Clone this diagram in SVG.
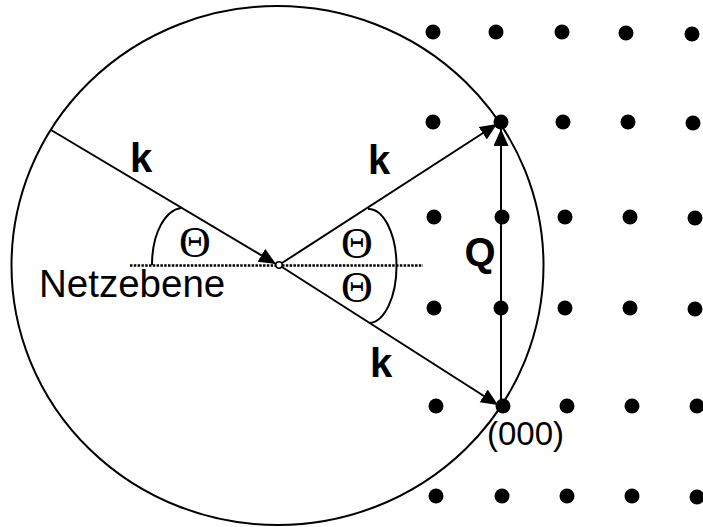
<svg xmlns="http://www.w3.org/2000/svg" width="703" height="527" viewBox="0 0 703 527">
<style>
.ln{stroke:#000;stroke-width:2;fill:none}
.dot{fill:#000}
.sans{font-family:"Liberation Sans",Arial,sans-serif;fill:#000}
.bold{font-family:"Liberation Sans",Arial,sans-serif;font-weight:bold;fill:#000}
.th{font-family:"Liberation Serif","Times New Roman",serif;fill:#000}
</style>
<defs>
<marker id="ah" markerUnits="userSpaceOnUse" markerWidth="18" markerHeight="16" refX="17" refY="7.5" orient="auto" viewBox="0 0 18 16">
<path d="M0,0 L17,7.5 L0,15 z" fill="#000"/>
</marker>
</defs>
<rect width="703" height="527" fill="#fff"/>
<g id="ewald-sphere">
<ellipse class="ln" cx="277.5" cy="265.5" rx="266" ry="259.5"/>
</g>
<g id="lattice">
<circle class="dot" cx="433" cy="32" r="7.5"/>
<circle class="dot" cx="496" cy="32" r="7.5"/>
<circle class="dot" cx="562" cy="32" r="7.5"/>
<circle class="dot" cx="626" cy="33" r="7.5"/>
<circle class="dot" cx="692" cy="34" r="7.5"/>
<circle class="dot" cx="433" cy="122" r="7.5"/>
<circle class="dot" cx="501" cy="122" r="7.5"/>
<circle class="dot" cx="563" cy="122" r="7.5"/>
<circle class="dot" cx="628" cy="122" r="7.5"/>
<circle class="dot" cx="693" cy="123" r="7.5"/>
<circle class="dot" cx="434" cy="217" r="7.5"/>
<circle class="dot" cx="502" cy="217" r="7.5"/>
<circle class="dot" cx="565" cy="217" r="7.5"/>
<circle class="dot" cx="630" cy="217" r="7.5"/>
<circle class="dot" cx="695" cy="218" r="7.5"/>
<circle class="dot" cx="434" cy="308" r="7.5"/>
<circle class="dot" cx="501" cy="308" r="7.5"/>
<circle class="dot" cx="565" cy="308" r="7.5"/>
<circle class="dot" cx="630" cy="308" r="7.5"/>
<circle class="dot" cx="695" cy="309" r="7.5"/>
<circle class="dot" cx="436" cy="406" r="7.5"/>
<circle class="dot" cx="503" cy="406" r="7.5"/>
<circle class="dot" cx="567" cy="406" r="7.5"/>
<circle class="dot" cx="632" cy="406" r="7.5"/>
<circle class="dot" cx="697" cy="406" r="7.5"/>
<circle class="dot" cx="436" cy="496" r="7.5"/>
<circle class="dot" cx="502" cy="496" r="7.5"/>
<circle class="dot" cx="567" cy="496" r="7.5"/>
<circle class="dot" cx="632" cy="496" r="7.5"/>
<circle class="dot" cx="697" cy="497" r="7.5"/>
</g>
<g id="connectors">
<line class="ln" x1="51" y1="130" x2="276" y2="264" marker-end="url(#ah)"/>
<line class="ln" x1="282" y1="263" x2="497" y2="124" marker-end="url(#ah)"/>
<line class="ln" x1="282" y1="267" x2="498" y2="405" marker-end="url(#ah)"/>
<line class="ln" x1="501" y1="406" x2="501" y2="129" marker-end="url(#ah)"/>
<path class="ln" d="M152,265 C152,232 166,210 181,208"/>
<path class="ln" d="M368,209 A28,57 0 0,1 369,323"/>
<line x1="130" y1="265.5" x2="423" y2="265.5" stroke="#000" stroke-width="2.5" stroke-dasharray="2.5 1.3"/>
</g>
<g id="origin">
<circle cx="279" cy="265" r="3.2" fill="#fff" stroke="#000" stroke-width="1.5"/>
</g>
<g id="labels">
<text class="bold" x="130" y="172" font-size="40">k</text>
<text class="bold" x="368" y="174" font-size="40">k</text>
<text class="bold" x="370" y="377" font-size="40">k</text>
<text class="bold" x="480" y="266" font-size="40" text-anchor="middle">Q</text>
<text class="th" x="195" y="257" font-size="44" text-anchor="middle">Θ</text>
<text class="th" x="357" y="258" font-size="44" text-anchor="middle">Θ</text>
<text class="th" x="357" y="302" font-size="44" text-anchor="middle">Θ</text>
<text class="sans" x="39" y="297" font-size="38.5">Netzebene</text>
<text class="sans" x="487" y="445" font-size="33">(000)</text>
</g>
</svg>
